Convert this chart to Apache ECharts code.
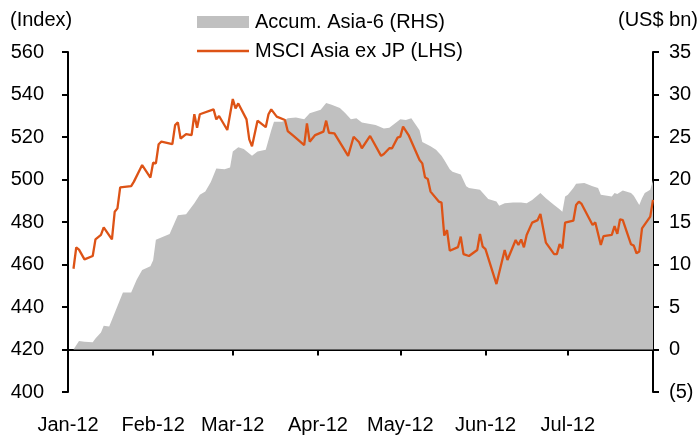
<!DOCTYPE html>
<html>
<head>
<meta charset="utf-8">
<script src="https://cdn.jsdelivr.net/npm/echarts@6/dist/echarts.min.js"></script>
<style>
  html, body { margin: 0; padding: 0; background: #fff; }
  #main { width: 699px; height: 437px; }
</style>
</head>
<body>
<div id="main"></div>
<script>
// MSCI Asia ex JP (LHS, index)
var lineDates = [
  '2012-01-03','2012-01-04','2012-01-05','2012-01-07','2012-01-10','2012-01-11','2012-01-13','2012-01-14',
  '2012-01-17','2012-01-18','2012-01-19','2012-01-20','2012-01-24','2012-01-25','2012-01-28','2012-01-31',
  '2012-02-01','2012-02-02','2012-02-03','2012-02-04','2012-02-08','2012-02-09','2012-02-10','2012-02-11',
  '2012-02-13','2012-02-15','2012-02-16','2012-02-17','2012-02-18','2012-02-23','2012-02-24','2012-02-25',
  '2012-02-28','2012-03-01','2012-03-02','2012-03-03','2012-03-06','2012-03-07','2012-03-08','2012-03-10',
  '2012-03-13','2012-03-14','2012-03-15','2012-03-17','2012-03-20','2012-03-21','2012-03-23','2012-03-27',
  '2012-03-28','2012-03-29','2012-03-31','2012-04-03','2012-04-04','2012-04-05','2012-04-07','2012-04-12',
  '2012-04-14','2012-04-16','2012-04-17','2012-04-20','2012-04-24','2012-04-25','2012-04-27','2012-04-28',
  '2012-04-30','2012-05-01','2012-05-02','2012-05-04','2012-05-08','2012-05-09','2012-05-10','2012-05-11',
  '2012-05-12','2012-05-15','2012-05-16','2012-05-17','2012-05-18','2012-05-19','2012-05-22','2012-05-23',
  '2012-05-24','2012-05-26','2012-05-29','2012-05-30','2012-05-31','2012-06-01','2012-06-05','2012-06-08',
  '2012-06-09','2012-06-12','2012-06-13','2012-06-14','2012-06-15','2012-06-16','2012-06-18','2012-06-20',
  '2012-06-21','2012-06-23','2012-06-26','2012-06-27','2012-06-28','2012-06-29','2012-06-30','2012-07-03',
  '2012-07-04','2012-07-05','2012-07-06','2012-07-10','2012-07-11','2012-07-13','2012-07-14','2012-07-17',
  '2012-07-18','2012-07-19','2012-07-20','2012-07-21','2012-07-24','2012-07-25','2012-07-26','2012-07-27',
  '2012-07-28','2012-07-31','2012-08-01'
];
var lineValues = [
  458, 468, 467, 462.4, 464, 471.8, 473.9, 477.5,
  471.8, 484.8, 486.4, 496.3, 496.9, 499, 506.8, 500.9,
  507.9, 507.6, 516.6, 517.8, 516.7, 525.6, 526.9, 519.3,
  521.4, 520.9, 530.7, 524.4, 530.7, 533, 528.3, 529.9,
  523.3, 537.9, 533.5, 535.8, 528.3, 518.9, 515.6, 527.7,
  524.6, 530.7, 533, 529.6, 528, 522.8, 520.6, 516.2,
  526.4, 517.8, 520.9, 522.5, 527.7, 522, 521.7, 511.1,
  520.1, 517.5, 514.7, 520.5, 511.1, 512, 514.7, 514.7,
  519.7, 520.2, 524.9, 520.9, 509.2, 507.6, 501, 500.2,
  494.3, 489.6, 489.1, 473.6, 476.2, 466.5, 468.2, 473.1,
  464.9, 464, 466.8, 474.4, 468.4, 467.2, 450.8, 466.8,
  462.1, 471.5, 469.2, 471.8, 468.1, 473.9, 479.7, 480.9,
  483.8, 470.3, 464.9, 464.9, 469.6, 467.6, 479.7, 480.6,
  488, 489.6, 488.5, 478.6, 479.8, 469.2, 473.4, 473.9,
  478.1, 474.4, 481.3, 480.9, 469.5, 468.9, 465.3, 466.1,
  477, 482.5, 490.4
];

// Accum. Asia-6 (RHS, US$ bn)
var areaDates = [
  '2012-01-03','2012-01-05','2012-01-07','2012-01-10','2012-01-11','2012-01-13','2012-01-14','2012-01-16',
  '2012-01-17','2012-01-21','2012-01-24','2012-01-26','2012-01-28','2012-01-31','2012-02-01','2012-02-02',
  '2012-02-07','2012-02-10','2012-02-13','2012-02-16','2012-02-18','2012-02-20','2012-02-22','2012-02-24',
  '2012-02-27','2012-02-29','2012-03-01','2012-03-03','2012-03-05','2012-03-08','2012-03-10','2012-03-13',
  '2012-03-15','2012-03-16','2012-03-19','2012-03-21','2012-03-24','2012-03-27','2012-03-29','2012-04-02',
  '2012-04-04','2012-04-06','2012-04-09','2012-04-11','2012-04-13','2012-04-15','2012-04-17','2012-04-19',
  '2012-04-22','2012-04-25','2012-04-27','2012-04-29','2012-05-01','2012-05-03','2012-05-05','2012-05-08',
  '2012-05-09','2012-05-12','2012-05-14','2012-05-16','2012-05-17','2012-05-19','2012-05-20','2012-05-23',
  '2012-05-25','2012-05-26','2012-05-30','2012-06-02','2012-06-05','2012-06-06','2012-06-08','2012-06-11',
  '2012-06-14','2012-06-16','2012-06-18','2012-06-21','2012-06-23','2012-06-26','2012-06-28','2012-06-29',
  '2012-06-30','2012-07-01','2012-07-03','2012-07-04','2012-07-07','2012-07-10','2012-07-12','2012-07-13',
  '2012-07-17','2012-07-18','2012-07-19','2012-07-21','2012-07-24','2012-07-25','2012-07-27','2012-07-28',
  '2012-07-29','2012-07-31','2012-08-01'
];
var areaValues = [
  0, 1.0, 0.9, 0.85, 1.3, 2.0, 2.8, 2.7,
  3.5, 6.7, 6.7, 8.2, 9.35, 9.8, 10.5, 12.9,
  13.6, 15.8, 15.9, 17.2, 18.2, 18.6, 19.7, 21.3,
  21.2, 21.4, 23.3, 23.8, 23.6, 22.8, 23.3, 23.5,
  25.8, 26.8, 26.8, 27.2, 27.3, 27.1, 27.8, 28.2,
  29.0, 28.8, 28.4, 27.8, 27.1, 27.2, 26.7, 26.6,
  26.4, 26.0, 26.1, 26.6, 27.1, 27.0, 27.2, 25.8,
  24.4, 23.9, 23.5, 22.8, 22.3, 21.2, 20.9, 20.6,
  19.2, 19.0, 18.8, 17.7, 17.4, 16.9, 17.2, 17.3,
  17.3, 17.2, 17.6, 18.4, 17.8, 17.0, 16.5, 16.2,
  18.0, 18.2, 19.0, 19.5, 19.6, 19.2, 19.0, 18.2,
  18.0, 18.4, 18.3, 18.7, 18.4, 18.1, 17.0, 17.8,
  18.4, 18.8, 19.9
];

var monthStarts = ['2012-01-01','2012-02-01','2012-03-01','2012-04-01','2012-05-01','2012-06-01','2012-07-01','2012-08-01'];
var monthLabels = ['Jan-12','Feb-12','Mar-12','Apr-12','May-12','Jun-12','Jul-12'];

// day number counted from 1 Jan 2012
function toDay(s) {
    var p = s.split('-');
    return Math.round((Date.UTC(+p[0], +p[1] - 1, +p[2]) - Date.UTC(2012, 0, 1)) / 86400000);
}

var FONT = 'Liberation Sans, Arial, sans-serif';
var FS = 20;
var tickDays = monthStarts.map(toDay);
var labelDays = tickDays.slice(0, monthLabels.length);

var lineData = [];
for (var i = 0; i < lineDates.length; i++) {
    lineData.push([toDay(lineDates[i]), lineValues[i]]);
}
var areaData = [];
for (var j = 0; j < areaDates.length; j++) {
    areaData.push([toDay(areaDates[j]), areaValues[j]]);
}

var myChart = echarts.init(document.getElementById('main'));
var axisLine = { show: true, lineStyle: { color: '#000', width: 2 } };
var axisTick = { show: true, inside: false, length: 6, lineStyle: { color: '#000', width: 2 } };

var option = {
    animation: false,
    backgroundColor: '#fff',
    textStyle: { fontFamily: FONT },
    grid: { left: 68, right: 46, top: 52, bottom: 45 },
    legend: {
        orient: 'vertical',
        left: 197,
        top: 12,
        padding: 0,
        itemWidth: 52,
        itemHeight: 12,
        itemGap: 9,
        textStyle: { fontSize: FS, color: '#000', fontFamily: FONT, padding: [0, 0, 0, 1] },
        data: [
            { name: 'Accum. Asia-6 (RHS)', icon: 'rect', itemStyle: { color: '#c0c0c0' } },
            { name: 'MSCI Asia ex JP (LHS)', icon: 'path://M0,0L52,0L52,2.4L0,2.4Z', itemStyle: { color: '#dd5316' } }
        ]
    },
    graphic: [
        { type: 'text', left: 10, top: 10, style: { text: '(Index)', fill: '#000', font: FS + 'px ' + FONT } },
        { type: 'text', right: 1, top: 10, style: { text: '(US$ bn)', fill: '#000', font: FS + 'px ' + FONT } }
    ],
    xAxis: {
        type: 'value',
        min: tickDays[0],
        max: tickDays[tickDays.length - 1],
        axisLine: axisLine,
        axisTick: { show: true, inside: false, length: 6, lineStyle: { color: '#000', width: 2 }, customValues: tickDays },
        splitLine: { show: false },
        axisLabel: {
            customValues: labelDays,
            margin: 23,
            fontSize: FS,
            color: '#000',
            fontFamily: FONT,
            formatter: function (val) {
                var k = labelDays.indexOf(Math.round(val));
                return k >= 0 ? monthLabels[k] : '';
            }
        }
    },
    yAxis: [
        {
            type: 'value',
            min: 400,
            max: 560,
            interval: 20,
            position: 'left',
            axisLine: axisLine,
            axisTick: axisTick,
            splitLine: { show: false },
            axisLabel: { margin: 24, fontSize: FS, color: '#000', fontFamily: FONT }
        },
        {
            type: 'value',
            min: -5,
            max: 35,
            interval: 5,
            position: 'right',
            axisLine: axisLine,
            axisTick: axisTick,
            splitLine: { show: false },
            axisLabel: {
                margin: 16,
                fontSize: FS,
                color: '#000',
                fontFamily: FONT,
                formatter: function (v) {
                    return v < 0 ? '(' + Math.abs(v) + ')' : String(v);
                }
            }
        }
    ],
    series: [
        {
            name: 'Accum. Asia-6 (RHS)',
            type: 'line',
            yAxisIndex: 1,
            data: areaData,
            showSymbol: false,
            symbol: 'none',
            lineStyle: { width: 0, color: '#c0c0c0' },
            itemStyle: { color: '#c0c0c0' },
            areaStyle: { color: '#c0c0c0', opacity: 1 },
            z: 1
        },
        {
            name: 'MSCI Asia ex JP (LHS)',
            type: 'line',
            yAxisIndex: 0,
            data: lineData,
            showSymbol: false,
            symbol: 'none',
            lineStyle: { width: 2.3, color: '#dd5316' },
            itemStyle: { color: '#dd5316' },
            z: 3
        }
    ]
};
myChart.setOption(option);
window.onresize = function () {
    myChart.resize();
};
</script>
</body>
</html>
